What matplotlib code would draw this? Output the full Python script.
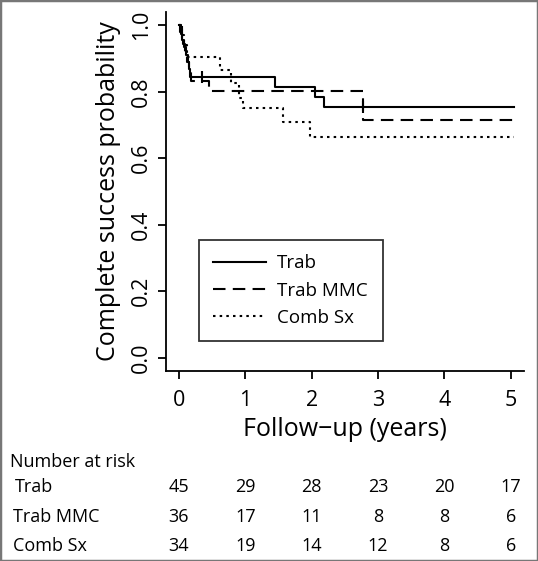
import numpy as np
import matplotlib
matplotlib.use('Agg')
import matplotlib.pyplot as plt
from matplotlib.patches import Rectangle
from matplotlib.transforms import blended_transform_factory

plt.rcParams['font.family'] = ['Open Sans', 'DejaVu Sans']

# Kaplan-Meier steps
trab_t = [0, 0.02, 0.05, 0.08, 0.11, 0.13, 0.15, 0.17, 1.45, 2.05, 2.18, 5.05]
trab_s = [1.0, 0.978, 0.956, 0.933, 0.911, 0.889, 0.867, 0.844, 0.815, 0.785, 0.755, 0.755]
trab_cens_t = [0.04, 0.35, 2.78]
trab_cens_s = [0.978, 0.844, 0.755]

mmc_t = [0, 0.03, 0.06, 0.09, 0.12, 0.15, 0.18, 0.45, 2.78, 5.05]
mmc_s = [1.0, 0.972, 0.944, 0.917, 0.889, 0.861, 0.833, 0.803, 0.715, 0.715]

comb_t = [0, 0.04, 0.08, 0.12, 0.62, 0.79, 0.90, 0.97, 1.57, 1.97, 5.05]
comb_s = [1.0, 0.971, 0.941, 0.904, 0.866, 0.826, 0.781, 0.750, 0.708, 0.663, 0.663]

# number at risk table
risk_times = [0, 1, 2, 3, 4, 5]
risk_groups = ['Trab', 'Trab MMC', 'Comb Sx']
risk_trab = [45, 29, 28, 23, 20, 17]
risk_mmc = [36, 17, 11, 8, 8, 6]
risk_comb = [34, 19, 14, 12, 8, 6]

fig = plt.figure(figsize=(5.38, 5.61), dpi=100)
ax = fig.add_axes([0.308, 0.339, 0.666, 0.640])

ax.step(trab_t, trab_s, where='post', color='black', lw=1.5, label='Trab')
ax.step(mmc_t, mmc_s, where='post', color='black', lw=1.5,
        linestyle=(0, (6, 3.5)), label='Trab MMC')
ax.step(comb_t, comb_s, where='post', color='black', lw=1.5,
        linestyle=(0, (1.2, 2.0)), label='Comb Sx')
ax.plot(trab_cens_t, trab_cens_s, '|', color='black', ms=9, mew=1.5)

ax.set_xlim(-0.2, 5.2)
ax.set_ylim(-0.04, 1.04)
ax.set_xticks(risk_times)
ax.set_yticks([0, 0.2, 0.4, 0.6, 0.8, 1.0])
ax.set_yticklabels(['0.0', '0.2', '0.4', '0.6', '0.8', '1.0'], rotation=90, va='center')
ax.spines['top'].set_visible(False)
ax.spines['right'].set_visible(False)
for s in ['left', 'bottom']:
    ax.spines[s].set_linewidth(1.3)
ax.tick_params(direction='out', length=6, width=1.3, labelsize=15.5, color='black')
ax.tick_params(axis='x', pad=8)
ax.tick_params(axis='y', pad=4)
ax.set_xlabel('Follow\u2212up (years)', fontsize=18, labelpad=4)
ax.set_ylabel('Complete success probability', fontsize=18, labelpad=7)

leg = ax.legend(loc='upper left', bbox_to_anchor=(0.093, 0.364, 0.513, 0.0),
                mode='expand', fontsize=13.5, frameon=True, fancybox=False,
                handlelength=2.8, handletextpad=0.6, labelspacing=0.5,
                borderpad=0.75, borderaxespad=0)
leg.get_frame().set_edgecolor('black')
leg.get_frame().set_linewidth(1.3)

# number at risk
trans = blended_transform_factory(ax.transData, fig.transFigure)
fig.text(10 / 538, 1 - 462 / 561, 'Number at risk', fontsize=13, va='center', ha='left')
rows = [risk_trab, risk_mmc, risk_comb]
row_y = [487, 517, 546]
row_x = [15, 13, 13]
for name, vals, yy, xx in zip(risk_groups, rows, row_y, row_x):
    fig.text(xx / 538, 1 - yy / 561, name, fontsize=13, va='center', ha='left')
    for t, v in zip(risk_times, vals):
        ax.text(t, 1 - yy / 561, str(v), transform=trans, fontsize=13,
                va='center', ha='center', clip_on=False)

fig.patches.append(Rectangle((0, 0), 1, 1, transform=fig.transFigure,
                             fill=False, edgecolor='#777777', linewidth=2.5))

fig.savefig('out.png', dpi=100)
